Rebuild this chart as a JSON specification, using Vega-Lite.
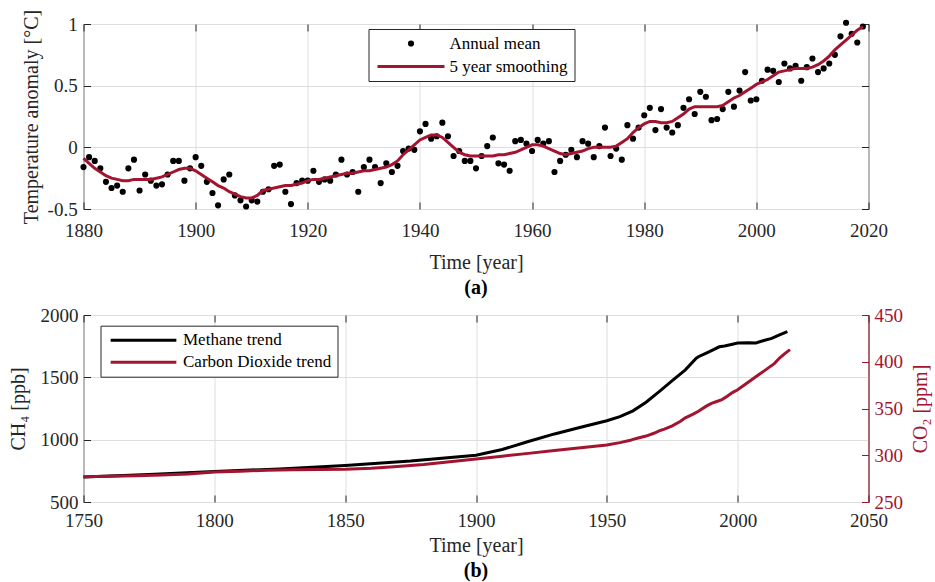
{
  "$schema": "https://vega.github.io/schema/vega-lite/v6.json",
  "background": "white",
  "padding": {"left": 7.5, "top": 8, "right": 5, "bottom": 5},
  "bounds": "flush",
  "spacing": 106,
  "config": {
    "font": "Liberation Serif",
    "view": {"stroke": "#262626", "strokeWidth": 1},
    "axis": {
      "labelFont": "Liberation Serif", "titleFont": "Liberation Serif",
      "labelFontSize": 19, "titleFontSize": 20, "titleFontWeight": "normal",
      "labelColor": "#262626", "titleColor": "#262626", "tickColor": "#262626",
      "domain": false, "gridColor": "#dedede", "gridWidth": 1,
      "tickSize": -7, "tickWidth": 1, "labelFlush": false, "labelOverlap": false
    },
    "legend": {"labelFont": "Liberation Serif", "labelFontSize": 17, "labelColor": "black"},
    "title": {"font": "Liberation Serif"}
  },
  "datasets": {
    "temp": [
      {"year":1880,"a":-0.16,"s":-0.09},{"year":1881,"a":-0.08,"s":-0.13},{"year":1882,"a":-0.11,"s":-0.17},{"year":1883,"a":-0.17,"s":-0.20},{"year":1884,"a":-0.28,"s":-0.23},
      {"year":1885,"a":-0.33,"s":-0.25},{"year":1886,"a":-0.31,"s":-0.26},{"year":1887,"a":-0.36,"s":-0.27},{"year":1888,"a":-0.17,"s":-0.27},{"year":1889,"a":-0.10,"s":-0.26},
      {"year":1890,"a":-0.35,"s":-0.26},{"year":1891,"a":-0.22,"s":-0.26},{"year":1892,"a":-0.27,"s":-0.26},{"year":1893,"a":-0.31,"s":-0.25},{"year":1894,"a":-0.30,"s":-0.24},
      {"year":1895,"a":-0.22,"s":-0.22},{"year":1896,"a":-0.11,"s":-0.20},{"year":1897,"a":-0.11,"s":-0.18},{"year":1898,"a":-0.27,"s":-0.17},{"year":1899,"a":-0.17,"s":-0.17},
      {"year":1900,"a":-0.08,"s":-0.19},{"year":1901,"a":-0.15,"s":-0.22},{"year":1902,"a":-0.28,"s":-0.25},{"year":1903,"a":-0.37,"s":-0.28},{"year":1904,"a":-0.47,"s":-0.31},
      {"year":1905,"a":-0.26,"s":-0.33},{"year":1906,"a":-0.22,"s":-0.36},{"year":1907,"a":-0.39,"s":-0.38},{"year":1908,"a":-0.43,"s":-0.40},{"year":1909,"a":-0.48,"s":-0.41},
      {"year":1910,"a":-0.43,"s":-0.41},{"year":1911,"a":-0.44,"s":-0.39},{"year":1912,"a":-0.36,"s":-0.35},{"year":1913,"a":-0.34,"s":-0.34},{"year":1914,"a":-0.15,"s":-0.33},
      {"year":1915,"a":-0.14,"s":-0.32},{"year":1916,"a":-0.36,"s":-0.31},{"year":1917,"a":-0.46,"s":-0.31},{"year":1918,"a":-0.29,"s":-0.30},{"year":1919,"a":-0.27,"s":-0.29},
      {"year":1920,"a":-0.27,"s":-0.27},{"year":1921,"a":-0.19,"s":-0.26},{"year":1922,"a":-0.28,"s":-0.26},{"year":1923,"a":-0.26,"s":-0.25},{"year":1924,"a":-0.27,"s":-0.24},
      {"year":1925,"a":-0.22,"s":-0.23},{"year":1926,"a":-0.10,"s":-0.22},{"year":1927,"a":-0.22,"s":-0.21},{"year":1928,"a":-0.20,"s":-0.21},{"year":1929,"a":-0.36,"s":-0.20},
      {"year":1930,"a":-0.16,"s":-0.19},{"year":1931,"a":-0.10,"s":-0.19},{"year":1932,"a":-0.16,"s":-0.18},{"year":1933,"a":-0.29,"s":-0.17},{"year":1934,"a":-0.13,"s":-0.16},
      {"year":1935,"a":-0.20,"s":-0.14},{"year":1936,"a":-0.15,"s":-0.11},{"year":1937,"a":-0.03,"s":-0.06},{"year":1938,"a":-0.01,"s":-0.02},{"year":1939,"a":-0.02,"s":0.02},
      {"year":1940,"a":0.13,"s":0.06},{"year":1941,"a":0.19,"s":0.08},{"year":1942,"a":0.07,"s":0.10},{"year":1943,"a":0.09,"s":0.10},{"year":1944,"a":0.20,"s":0.08},
      {"year":1945,"a":0.09,"s":0.04},{"year":1946,"a":-0.07,"s":0.00},{"year":1947,"a":-0.03,"s":-0.04},{"year":1948,"a":-0.11,"s":-0.06},{"year":1949,"a":-0.11,"s":-0.07},
      {"year":1950,"a":-0.17,"s":-0.07},{"year":1951,"a":-0.07,"s":-0.07},{"year":1952,"a":0.01,"s":-0.07},{"year":1953,"a":0.08,"s":-0.07},{"year":1954,"a":-0.13,"s":-0.06},
      {"year":1955,"a":-0.14,"s":-0.06},{"year":1956,"a":-0.19,"s":-0.05},{"year":1957,"a":0.05,"s":-0.04},{"year":1958,"a":0.06,"s":-0.02},{"year":1959,"a":0.03,"s":0.00},
      {"year":1960,"a":-0.03,"s":0.02},{"year":1961,"a":0.06,"s":0.02},{"year":1962,"a":0.03,"s":0.01},{"year":1963,"a":0.05,"s":-0.01},{"year":1964,"a":-0.20,"s":-0.03},
      {"year":1965,"a":-0.11,"s":-0.05},{"year":1966,"a":-0.06,"s":-0.06},{"year":1967,"a":-0.02,"s":-0.05},{"year":1968,"a":-0.08,"s":-0.04},{"year":1969,"a":0.05,"s":-0.03},
      {"year":1970,"a":0.03,"s":-0.01},{"year":1971,"a":-0.08,"s":0.00},{"year":1972,"a":0.01,"s":0.00},{"year":1973,"a":0.16,"s":0.00},{"year":1974,"a":-0.07,"s":0.00},
      {"year":1975,"a":-0.01,"s":0.01},{"year":1976,"a":-0.10,"s":0.04},{"year":1977,"a":0.18,"s":0.07},{"year":1978,"a":0.07,"s":0.12},{"year":1979,"a":0.16,"s":0.16},
      {"year":1980,"a":0.26,"s":0.19},{"year":1981,"a":0.32,"s":0.21},{"year":1982,"a":0.14,"s":0.21},{"year":1983,"a":0.31,"s":0.20},{"year":1984,"a":0.16,"s":0.20},
      {"year":1985,"a":0.12,"s":0.21},{"year":1986,"a":0.18,"s":0.24},{"year":1987,"a":0.32,"s":0.27},{"year":1988,"a":0.39,"s":0.31},{"year":1989,"a":0.27,"s":0.33},
      {"year":1990,"a":0.45,"s":0.33},{"year":1991,"a":0.41,"s":0.33},{"year":1992,"a":0.22,"s":0.33},{"year":1993,"a":0.23,"s":0.33},{"year":1994,"a":0.31,"s":0.34},
      {"year":1995,"a":0.45,"s":0.37},{"year":1996,"a":0.33,"s":0.40},{"year":1997,"a":0.46,"s":0.42},{"year":1998,"a":0.61,"s":0.45},{"year":1999,"a":0.38,"s":0.48},
      {"year":2000,"a":0.39,"s":0.51},{"year":2001,"a":0.54,"s":0.53},{"year":2002,"a":0.63,"s":0.55},{"year":2003,"a":0.62,"s":0.58},{"year":2004,"a":0.53,"s":0.61},
      {"year":2005,"a":0.68,"s":0.62},{"year":2006,"a":0.64,"s":0.63},{"year":2007,"a":0.66,"s":0.64},{"year":2008,"a":0.54,"s":0.64},{"year":2009,"a":0.65,"s":0.64},
      {"year":2010,"a":0.72,"s":0.65},{"year":2011,"a":0.61,"s":0.67},{"year":2012,"a":0.64,"s":0.70},{"year":2013,"a":0.68,"s":0.74},{"year":2014,"a":0.75,"s":0.79},
      {"year":2015,"a":0.90,"s":0.83},{"year":2016,"a":1.01,"s":0.87},{"year":2017,"a":0.92,"s":0.91},{"year":2018,"a":0.85,"s":0.95},{"year":2019,"a":0.98,"s":0.98}
    ],
    "ch4": [
      {"year":1750,"v":700},{"year":1775,"v":720},{"year":1800,"v":745},{"year":1825,"v":765},{"year":1850,"v":793},
      {"year":1875,"v":828},{"year":1900,"v":875},{"year":1910,"v":921},{"year":1920,"v":985},{"year":1930,"v":1046},
      {"year":1940,"v":1100},{"year":1950,"v":1152},{"year":1955,"v":1185},{"year":1960,"v":1231},{"year":1965,"v":1300},
      {"year":1970,"v":1385},{"year":1975,"v":1473},{"year":1980,"v":1560},{"year":1984,"v":1650},{"year":1985,"v":1665},
      {"year":1988,"v":1695},{"year":1990,"v":1715},{"year":1993,"v":1745},{"year":1995,"v":1752},{"year":1998,"v":1766},
      {"year":2000,"v":1775},{"year":2004,"v":1778},{"year":2007,"v":1776},{"year":2010,"v":1795},{"year":2013,"v":1812},
      {"year":2016,"v":1840},{"year":2019,"v":1866}
    ],
    "co2": [
      {"year":1750,"v":277},{"year":1760,"v":277.5},{"year":1770,"v":278},{"year":1780,"v":279},{"year":1790,"v":280},
      {"year":1800,"v":282},{"year":1810,"v":283},{"year":1820,"v":284},{"year":1830,"v":284.5},{"year":1840,"v":284.7},
      {"year":1850,"v":285},{"year":1860,"v":286},{"year":1870,"v":288},{"year":1880,"v":290},{"year":1890,"v":293},
      {"year":1900,"v":296},{"year":1910,"v":299},{"year":1920,"v":302},{"year":1930,"v":305},{"year":1940,"v":308},
      {"year":1950,"v":311},{"year":1955,"v":313.5},{"year":1959,"v":316},{"year":1960,"v":317},{"year":1962,"v":318.5},
      {"year":1965,"v":320.5},{"year":1968,"v":323.5},{"year":1970,"v":326},{"year":1972,"v":328},{"year":1975,"v":331.5},
      {"year":1978,"v":336},{"year":1980,"v":340},{"year":1983,"v":344},{"year":1985,"v":347},{"year":1988,"v":352.5},
      {"year":1990,"v":355.5},{"year":1992,"v":357.5},{"year":1994,"v":359.5},{"year":1996,"v":363},{"year":1998,"v":367},
      {"year":2000,"v":370},{"year":2002,"v":374},{"year":2004,"v":378},{"year":2006,"v":382},{"year":2008,"v":386},
      {"year":2010,"v":390},{"year":2012,"v":394},{"year":2014,"v":398},{"year":2016,"v":404},{"year":2018,"v":408.7},
      {"year":2020,"v":413}
    ]
  },
  "resolve": {"scale": {"color": "independent"}, "legend": {"color": "independent"}},
  "vconcat": [
    {
      "width": 785, "height": 185,
      "title": {"text": "(a)", "orient": "bottom", "fontWeight": "bold", "fontSize": 20, "offset": 6, "anchor": "middle", "color": "#000000"},
      "layer": [
        {
          "data": {"name": "temp"},
          "mark": {"type": "point", "filled": true, "size": 38, "opacity": 1},
          "encoding": {
            "x": {"field": "year", "type": "quantitative", "scale": {"domain": [1880, 2020], "nice": false, "zero": false},
                  "axis": {"orient": "bottom", "values": [1880,1900,1920,1940,1960,1980,2000,2020], "labelExpr": "'' + datum.value", "labelPadding": 19, "grid": true, "title": "Time [year]", "titlePadding": 12}},
            "y": {"field": "a", "type": "quantitative", "scale": {"domain": [-0.5, 1], "nice": false, "zero": false},
                  "axis": {"orient": "left", "values": [-0.5,0,0.5,1], "labelExpr": "'' + datum.value", "labelPadding": 13.3, "grid": true, "title": "Temperature anomaly [°C]", "titlePadding": 6}},
            "fill": {"datum": "Annual mean", "type": "nominal",
                      "scale": {"domain": ["Annual mean", "5 year smoothing"], "range": ["#000000", "transparent"]},
                      "legend": {"orient": "none", "legendX": 285, "legendY": 5, "title": null, "padding": 6,
                                 "fillColor": "white", "strokeColor": "#262626",
                                 "symbolType": "circle", "symbolSize": 38, "symbolStrokeWidth": 0, "clipHeight": 17,
                                 "symbolOffset": 28, "labelOffset": 30, "rowPadding": 5, "labelFontSize": 17}}
          }
        },
        {
          "data": {"name": "temp"},
          "mark": {"type": "line", "strokeWidth": 3},
          "encoding": {
            "x": {"field": "year", "type": "quantitative",
                  "axis": {"orient": "top", "values": [1880,1900,1920,1940,1960,1980,2000,2020], "labels": false, "title": null, "grid": false}},
            "y": {"field": "s", "type": "quantitative",
                  "axis": {"orient": "right", "values": [-0.5,0,0.5,1], "labels": false, "title": null, "grid": false}},
            "stroke": {"datum": "5 year smoothing", "type": "nominal",
                      "scale": {"domain": ["Annual mean ", "5 year smoothing"], "range": ["transparent", "#A2142F"]},
                      "legend": {"orient": "none", "legendX": 285, "legendY": 5, "title": null, "padding": 6,
                                 "symbolType": "stroke", "symbolSize": 4489, "symbolStrokeWidth": 3, "clipHeight": 17,
                                 "symbolOffset": 1.5, "labelOffset": 7, "rowPadding": 5, "labelFontSize": 17,
                                 "labelExpr": "''", "labelColor": "transparent"}}
          }
        }
      ],
      "resolve": {"axis": {"x": "independent", "y": "independent"}}
    },
    {
      "width": 785, "height": 187,
      "title": {"text": "(b)", "orient": "bottom", "fontWeight": "bold", "fontSize": 20, "offset": 6, "anchor": "middle", "color": "#000000"},
      "layer": [
        {
          "data": {"name": "ch4"},
          "mark": {"type": "line", "strokeWidth": 3},
          "encoding": {
            "x": {"field": "year", "type": "quantitative", "scale": {"domain": [1750, 2050], "nice": false, "zero": false},
                  "axis": {"orient": "bottom", "values": [1750,1800,1850,1900,1950,2000,2050], "labelExpr": "'' + datum.value", "labelPadding": 16, "grid": true, "title": "Time [year]", "titlePadding": 5.3}},
            "y": {"field": "v", "type": "quantitative", "scale": {"domain": [500, 2000], "nice": false, "zero": false},
                  "axis": {"orient": "left", "values": [500,1000,1500,2000], "labelExpr": "'' + datum.value", "labelPadding": 12.6, "grid": true, "title": "CH₄ [ppb]", "titlePadding": 11}},
            "color": {"datum": "Methane trend", "type": "nominal",
                      "scale": {"domain": ["Methane trend", "Carbon Dioxide trend"], "range": ["#000000", "#A2142F"]},
                      "legend": {"orient": "none", "legendX": 17, "legendY": 10.7, "title": null, "padding": 6,
                                 "fillColor": "white", "strokeColor": "#262626",
                                 "symbolType": "stroke", "symbolSize": 4316, "symbolStrokeWidth": 3, "clipHeight": 17,
                                 "symbolOffset": 2.5, "labelOffset": 5, "rowPadding": 4, "labelFontSize": 17}}
          }
        },
        {
          "data": {"name": "co2"},
          "mark": {"type": "line", "strokeWidth": 3},
          "encoding": {
            "x": {"field": "year", "type": "quantitative",
                  "axis": {"orient": "top", "values": [1750,1800,1850,1900,1950,2000,2050], "labels": false, "title": null, "grid": false}},
            "y": {"field": "v", "type": "quantitative", "scale": {"domain": [250, 450], "nice": false, "zero": false},
                  "axis": {"orient": "right", "values": [250,300,350,400,450], "labelExpr": "'' + datum.value", "labelPadding": 12.4, "grid": false,
                           "domain": true, "domainColor": "#A2142F", "tickColor": "#A2142F", "labelColor": "#A2142F", "titleColor": "#A2142F",
                           "title": "CO₂ [ppm]", "titleAngle": 270, "titleBaseline": "top", "titlePadding": 8}},
            "color": {"datum": "Carbon Dioxide trend", "type": "nominal"}
          }
        }
      ],
      "resolve": {"scale": {"y": "independent"}, "axis": {"x": "independent", "y": "independent"}}
    }
  ]
}
